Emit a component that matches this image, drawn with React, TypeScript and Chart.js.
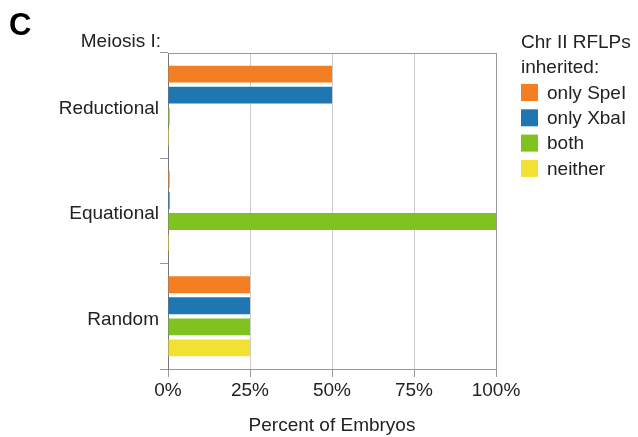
import React, { useEffect, useRef } from "react";
import { Chart, registerables } from "chart.js";

Chart.register(...registerables);

const categories = ["Reductional", "Equational", "Random"];
const seriesNames = ["only SpeI", "only XbaI", "both", "neither"];
const onlySpeI = [50, 0.5, 25];
const onlyXbaI = [50, 0.5, 25];
const both = [0.5, 100, 25];
const neither = [0.3, 0.3, 25];
const seriesColors = ["#F47F22", "#1F77B2", "#80C21F", "#F2E133"];
const xTicks = [0, 25, 50, 75, 100];

const FONT = "'Liberation Sans', Arial, sans-serif";
const TEXT = "#222222";
const FS = 19;

const extrasPlugin = {
  id: "extras",
  afterDraw(chart: any) {
    const { ctx, chartArea } = chart;
    ctx.save();
    // top frame line
    ctx.strokeStyle = "#999999";
    ctx.lineWidth = 1;
    ctx.beginPath();
    ctx.moveTo(chartArea.left, chartArea.top + 0.5);
    ctx.lineTo(chartArea.right, chartArea.top + 0.5);
    ctx.stroke();

    // Panel letter
    ctx.fillStyle = "#000";
    ctx.font = `bold 31px ${FONT}`;
    ctx.textBaseline = "alphabetic";
    ctx.textAlign = "left";
    ctx.fillText("C", 9, 35);

    ctx.fillStyle = TEXT;
    ctx.font = `${FS}px ${FONT}`;
    ctx.textAlign = "right";
    ctx.textBaseline = "middle";
    ctx.fillText("Meiosis I:", 161, 42);

    // legend
    ctx.textAlign = "left";
    ctx.fillText("Chr II RFLPs", 521, 43);
    ctx.fillText("inherited:", 521, 68);
    seriesNames.forEach((name, i) => {
      const cy = 92.5 + i * 25.3;
      ctx.fillStyle = seriesColors[i];
      ctx.fillRect(521, cy - 8.5, 17, 17);
      ctx.fillStyle = TEXT;
      ctx.fillText(name, 547, cy + 1);
    });
    ctx.restore();
  },
};

export default function App() {
  const ref = useRef<HTMLCanvasElement>(null);
  useEffect(() => {
    document.body.style.margin = "0";
    const data = [onlySpeI, onlyXbaI, both, neither];
    const chart = new Chart(ref.current!, {
      type: "bar",
      data: {
        labels: categories,
        datasets: seriesNames.map((n, i) => ({
          label: n,
          data: data[i],
          backgroundColor: seriesColors[i],
          borderWidth: 0,
          barPercentage: 0.8,
          categoryPercentage: 0.8,
        })),
      },
      options: {
        indexAxis: "y",
        animation: false,
        responsive: false,
        maintainAspectRatio: false,
        layout: { padding: { left: 0, top: 53, right: 142, bottom: 0 } },
        plugins: {
          legend: { display: false },
          tooltip: { enabled: false },
        },
        scales: {
          x: {
            min: 0,
            max: 100,
            afterBuildTicks: (scale: any) => {
              scale.ticks = xTicks.map((v) => ({ value: v }));
            },
            afterFit: (scale: any) => {
              scale.height = 68;
            },
            ticks: {
              callback: (v: any) => v + "%",
              font: { family: FONT, size: FS },
              color: TEXT,
              padding: 2,
              maxRotation: 0,
            },
            grid: {
              color: (c: any) => (c.tick && c.tick.value === 100 ? "#999999" : "#CCCCCC"),
              tickColor: "#999999",
              tickLength: 8,
              drawTicks: true,
            },
            border: { color: "#999999", width: 1 },
            title: {
              display: true,
              text: "Percent of Embryos",
              font: { family: FONT, size: FS },
              color: TEXT,
              padding: { top: 0, bottom: 0 },
            },
          },
          y: {
            afterFit: (scale: any) => {
              scale.width = 168;
            },
            ticks: {
              font: { family: FONT, size: FS },
              color: TEXT,
              padding: 1,
              labelOffset: 3,
            },
            grid: {
              offset: true,
              drawOnChartArea: false,
              tickColor: "#999999",
              tickLength: 8,
            },
            border: { color: "#777777", width: 1 },
          },
        },
      },
      plugins: [extrasPlugin],
    });
    return () => chart.destroy();
  }, []);
  return <canvas ref={ref} width={638} height={437} style={{ display: "block" }} />;
}
